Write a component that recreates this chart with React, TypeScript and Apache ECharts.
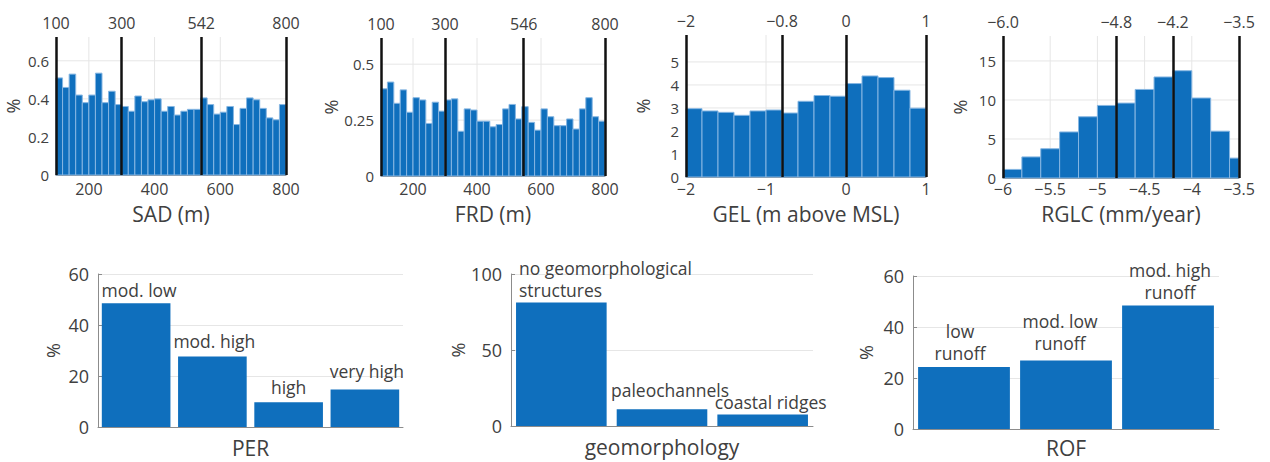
import React, { useEffect, useRef } from "react";
import * as echarts from "echarts";

// ---------- DATA ----------
const sadEdges = [100, 120, 140, 160, 180, 200, 220, 240, 260, 280, 300, 320, 340, 360, 380, 400, 420, 440, 460, 480, 500, 520, 540, 560, 580, 600, 620, 640, 660, 680, 700, 720, 740, 760, 780, 800];
const sadPct = [0.51, 0.46, 0.53, 0.42, 0.38, 0.42, 0.535, 0.38, 0.44, 0.37, 0.36, 0.335, 0.415, 0.385, 0.395, 0.4, 0.335, 0.36, 0.315, 0.335, 0.345, 0.345, 0.405, 0.37, 0.32, 0.33, 0.36, 0.265, 0.35, 0.405, 0.395, 0.35, 0.3, 0.29, 0.37];
const sadThresholds = [100, 300, 542, 800];
const sadXTicks = [200, 400, 600, 800];
const sadYTicks = [0, 0.2, 0.4, 0.6];

const frdEdges = [100, 120, 140, 160, 180, 200, 220, 240, 260, 280, 300, 320, 340, 360, 380, 400, 420, 440, 460, 480, 500, 520, 540, 560, 580, 600, 620, 640, 660, 680, 700, 720, 740, 760, 780, 800];
const frdPct = [0.39, 0.42, 0.325, 0.385, 0.285, 0.35, 0.34, 0.235, 0.33, 0.29, 0.34, 0.345, 0.2, 0.3, 0.295, 0.245, 0.245, 0.22, 0.23, 0.3, 0.32, 0.255, 0.31, 0.24, 0.205, 0.3, 0.265, 0.225, 0.225, 0.255, 0.21, 0.3, 0.35, 0.265, 0.245];
const frdThresholds = [100, 300, 546, 800];
const frdXTicks = [200, 400, 600, 800];
const frdYTicks = [0, 0.25, 0.5];

const gelEdges = [-2, -1.8, -1.6, -1.4, -1.2, -1, -0.8, -0.6, -0.4, -0.2, 0, 0.2, 0.4, 0.6, 0.8, 1];
const gelPct = [2.97, 2.87, 2.81, 2.68, 2.87, 2.91, 2.78, 3.29, 3.54, 3.51, 4.06, 4.39, 4.32, 3.77, 2.99];
const gelThresholds = [-2, -0.8, 0, 1];
const gelXTicks = [-2, -1, 0, 1];
const gelYTicks = [0, 1, 2, 3, 4, 5];

const rglcEdges = [-6, -5.8, -5.6, -5.4, -5.2, -5, -4.8, -4.6, -4.4, -4.2, -4, -3.8, -3.6, -3.5];
const rglcPct = [1.1, 2.7, 3.75, 5.9, 7.85, 9.3, 9.6, 11.35, 12.95, 13.75, 10.25, 6.0, 2.55];
const rglcThresholds = [-6.0, -4.8, -4.2, -3.5];
const rglcXTicks = [-6, -5.5, -5, -4.5, -4, -3.5];
const rglcYTicks = [0, 5, 10, 15];

const perCats = ["mod. low", "mod. high", "high", "very high"];
const perPct = [48.5, 27.6, 9.7, 14.7];

const geoCats = ["no geomorphological\nstructures", "paleochannels", "coastal ridges"];
const geoPct = [81.3, 11, 7.5];

const rofCats = ["low\nrunoff", "mod. low\nrunoff", "mod. high\nrunoff"];
const rofPct = [24.3, 26.9, 48.4];

// ---------- STYLE ----------
const FONT = "Open Sans";
const TXT = "#404040";
const BAR = "#0f6fbd";
const BAR_EDGE = "#86b6e2";
const GRIDC = "#e6e6e6";
const AXISC = "#8c8c8c";

const fmtNum = (v: number, digits?: number) => {
  const s = digits != null ? v.toFixed(digits) : String(Math.round(v * 1e6) / 1e6);
  return s.replace("-", "\u2212");
};
const inList = (v: number, list: number[]) => list.some((t) => Math.abs(t - v) < 1e-6);

type TopPanel = {
  grid: { left: number; top: number; width: number; height: number };
  edges: number[];
  values: number[];
  xMin: number;
  xMax: number;
  xInterval: number;
  xTicks: number[];
  yMax: number;
  yInterval: number;
  yTicks: number[];
  thresholds: number[];
  thrDigits?: number;
  name: string;
  nameGap: number;
  labelMargin: number;
};

const topPanels: TopPanel[] = [
  { grid: { left: 56, top: 37, width: 230, height: 138 }, edges: sadEdges, values: sadPct, xMin: 100, xMax: 800, xInterval: 100, xTicks: sadXTicks, yMax: 0.725, yInterval: 0.2, yTicks: sadYTicks, thresholds: sadThresholds, name: "SAD (m)", nameGap: 28, labelMargin: 6 },
  { grid: { left: 381, top: 38, width: 224, height: 138 }, edges: frdEdges, values: frdPct, xMin: 100, xMax: 800, xInterval: 100, xTicks: frdXTicks, yMax: 0.617, yInterval: 0.25, yTicks: frdYTicks, thresholds: frdThresholds, name: "FRD (m)", nameGap: 27, labelMargin: 5 },
  { grid: { left: 686, top: 35, width: 240, height: 142 }, edges: gelEdges, values: gelPct, xMin: -2, xMax: 1, xInterval: 1, xTicks: gelXTicks, yMax: 6.17, yInterval: 1, yTicks: gelYTicks, thresholds: gelThresholds, name: "GEL (m above MSL)", nameGap: 26, labelMargin: 4 },
  { grid: { left: 1003, top: 36, width: 236, height: 142 }, edges: rglcEdges, values: rglcPct, xMin: -6, xMax: -3.5, xInterval: 0.5, xTicks: rglcXTicks, yMax: 18.2, yInterval: 5, yTicks: rglcYTicks, thresholds: rglcThresholds, thrDigits: 1, name: "RGLC (mm/year)", nameGap: 25, labelMargin: 3 },
];

type BottomPanel = {
  grid: { left: number; top: number; width: number; height: number };
  cats: string[];
  values: number[];
  yMax: number;
  yInterval: number;
  name: string;
  nameGap: number;
  yNameGap: number;
  labels: any[];
};

const bottomPanels: BottomPanel[] = [
  {
    grid: { left: 98, top: 274, width: 305, height: 153 }, cats: perCats, values: perPct, yMax: 60, yInterval: 20, name: "PER", nameGap: 10, yNameGap: 36,
    labels: [
      { position: "top", distance: 2, offset: [3, 0] },
      { position: "top", distance: 5, offset: [2, 0] },
      { position: "top", distance: 4, offset: [0, 0] },
      { position: "top", distance: 8, offset: [2, 0] },
    ],
  },
  {
    grid: { left: 511, top: 274, width: 302, height: 152 }, cats: geoCats, values: geoPct, yMax: 100, yInterval: 50, name: "geomorphology", nameGap: 10, yNameGap: 42,
    labels: [
      { position: [3, -1], align: "left", verticalAlign: "bottom" },
      { position: "top", distance: 8, offset: [8, 0] },
      { position: "top", distance: 2, offset: [8, 0] },
    ],
  },
  {
    grid: { left: 913, top: 276, width: 306, height: 153 }, cats: rofCats, values: rofPct, yMax: 60, yInterval: 20, name: "ROF", nameGap: 8, yNameGap: 38,
    labels: [
      { position: "top", distance: 3, offset: [-4, 0] },
      { position: "top", distance: 6, offset: [-6, 0] },
      { position: "top", distance: 3, offset: [2, 0] },
    ],
  },
];

function buildOption() {
  const grids: any[] = [];
  const xAxes: any[] = [];
  const yAxes: any[] = [];
  const series: any[] = [];

  topPanels.forEach((p, i) => {
    grids.push({ ...p.grid, containLabel: false });
    xAxes.push({
      type: "value",
      gridIndex: i,
      min: p.xMin,
      max: p.xMax,
      interval: p.xInterval,
      name: p.name,
      nameLocation: "middle",
      nameGap: p.nameGap,
      nameTextStyle: { fontFamily: FONT, fontSize: 21, lineHeight: 21, color: TXT },
      axisLine: { show: true, lineStyle: { color: AXISC, width: 1 } },
      axisTick: { show: false },
      splitLine: { show: false },
      axisLabel: {
        fontFamily: FONT,
        fontSize: 16,
        lineHeight: 16,
        color: TXT,
        margin: p.labelMargin,
        showMinLabel: true,
        showMaxLabel: true,
        hideOverlap: false,
        formatter: (v: number) => (inList(v, p.xTicks) ? fmtNum(v) : ""),
      },
    });
    yAxes.push({
      type: "value",
      gridIndex: i,
      min: 0,
      max: p.yMax,
      interval: p.yInterval,
      name: "%",
      nameLocation: "middle",
      nameRotate: 90,
      nameGap: 34,
      nameTextStyle: { fontFamily: FONT, fontSize: 18, color: TXT },
      axisLine: { show: false },
      axisTick: { show: false },
      splitLine: { show: false },
      axisLabel: {
        fontFamily: FONT,
        fontSize: 15,
        color: TXT,
        margin: 7,
        showMaxLabel: false,
        formatter: (v: number) => (inList(v, p.yTicks) ? fmtNum(v) : ""),
      },
    });

    // background grid lines (drawn behind bars)
    const gx = p.xTicks.filter((v) => v > p.xMin + 1e-6 && v < p.xMax - 1e-6);
    const gy = p.yTicks.filter((v) => v > 1e-6);
    const gridData = [...gx.map((v) => [v, 0, 0]), ...gy.map((v) => [p.xMin, v, 1])];
    series.push({
      type: "custom",
      xAxisIndex: i,
      yAxisIndex: i,
      silent: true,
      z: 1,
      data: gridData,
      encode: { x: 0, y: 1 },
      renderItem: (params: any, api: any) => {
        const cs = params.coordSys;
        const vx = api.value(0);
        const vy = api.value(1);
        const kind = api.value(2);
        if (kind === 0) {
          const px = api.coord([vx, 0])[0];
          return { type: "line", shape: { x1: px, y1: cs.y, x2: px, y2: cs.y + cs.height }, style: { stroke: GRIDC, lineWidth: 1 } };
        }
        const py = api.coord([p.xMin, vy])[1];
        return { type: "line", shape: { x1: cs.x, y1: py, x2: cs.x + cs.width, y2: py }, style: { stroke: GRIDC, lineWidth: 1 } };
      },
    });

    // histogram bars
    const histData = p.values.map((v, k) => [p.edges[k], p.edges[k + 1], v]);
    series.push({
      type: "custom",
      xAxisIndex: i,
      yAxisIndex: i,
      z: 2,
      data: histData,
      encode: { x: [0, 1], y: 2 },
      renderItem: (_params: any, api: any) => {
        const a = api.coord([api.value(0), api.value(2)]);
        const b = api.coord([api.value(1), 0]);
        return {
          type: "rect",
          shape: { x: a[0], y: a[1], width: b[0] - a[0], height: b[1] - a[1] },
          style: { fill: BAR, stroke: BAR_EDGE, lineWidth: 1 },
        };
      },
      markLine: {
        silent: true,
        symbol: ["none", "none"],
        animation: false,
        z: 5,
        lineStyle: { color: "#111", width: 2.5, type: "solid" },
        label: {
          show: true,
          position: "end",
          distance: 6,
          fontFamily: FONT,
          fontSize: 16,
          color: TXT,
          formatter: (prm: any) => prm.name,
        },
        emphasis: { disabled: true },
        data: p.thresholds.map((t) => ({ xAxis: t, name: fmtNum(t, p.thrDigits) })),
      },
    });
  });

  bottomPanels.forEach((p, j) => {
    const gi = topPanels.length + j;
    grids.push({ ...p.grid, containLabel: false });
    xAxes.push({
      type: "category",
      gridIndex: gi,
      data: p.cats,
      name: p.name,
      nameLocation: "middle",
      nameGap: p.nameGap,
      nameTextStyle: { fontFamily: FONT, fontSize: 21, lineHeight: 21, color: TXT },
      axisLine: { show: true, lineStyle: { color: AXISC, width: 1 } },
      axisTick: { show: false },
      axisLabel: { show: false },
    });
    yAxes.push({
      type: "value",
      gridIndex: gi,
      min: 0,
      max: p.yMax,
      interval: p.yInterval,
      name: "%",
      nameLocation: "middle",
      nameRotate: 90,
      nameGap: p.yNameGap,
      nameTextStyle: { fontFamily: FONT, fontSize: 18, color: TXT },
      axisLine: { show: true, lineStyle: { color: AXISC, width: 1 } },
      axisTick: { show: true, inside: true, length: 4, lineStyle: { color: AXISC } },
      splitLine: { show: true, showMinLine: false, lineStyle: { color: GRIDC, width: 1 } },
      axisLabel: { fontFamily: FONT, fontSize: 18, color: TXT, margin: 9 },
    });
    series.push({
      type: "bar",
      xAxisIndex: gi,
      yAxisIndex: gi,
      barWidth: "90%",
      itemStyle: { color: BAR },
      data: p.values.map((v, k) => ({
        value: v,
        label: {
          show: true,
          formatter: p.cats[k],
          fontFamily: FONT,
          fontSize: 17.5,
          lineHeight: 22,
          color: TXT,
          ...p.labels[k],
        },
      })),
    });
  });

  return {
    animation: false,
    backgroundColor: "#ffffff",
    textStyle: { fontFamily: FONT },
    grid: grids,
    xAxis: xAxes,
    yAxis: yAxes,
    series,
  };
}

export default function App() {
  const ref = useRef<HTMLDivElement>(null);
  useEffect(() => {
    document.body.style.margin = "0";
    if (!ref.current) return;
    const chart = echarts.init(ref.current, null, { renderer: "svg" });
    chart.setOption(buildOption() as any);
    return () => chart.dispose();
  }, []);
  return <div ref={ref} style={{ width: 1270, height: 462 }} />;
}
